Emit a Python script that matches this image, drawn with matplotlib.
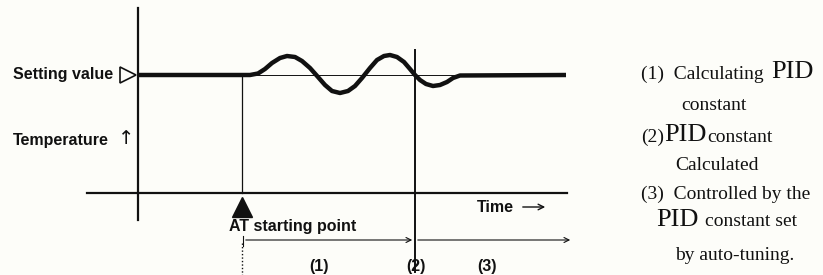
import matplotlib
matplotlib.use("Agg")
import matplotlib.pyplot as plt

# --- data (diagram coordinates: x = time position, y = temperature position, y grows downward) ---
curve_time = [138, 250, 258, 265, 272, 280, 287, 295, 302, 310, 318, 325, 332, 340, 348, 355,
              362, 370, 377, 384, 390, 397, 404, 410, 415, 420, 426, 433, 440, 447, 453, 460, 566]
curve_temp = [75, 75, 73.5, 69, 63, 58, 56, 57, 61, 68, 77, 85, 91, 93, 91, 86,
              78, 68, 60, 56, 55, 57, 62, 69, 75, 80, 84, 86, 85, 82, 78, 75.5, 75]
setpoint = 75
at_start = 242
pid_done = 415
time_end = 567
baseline = 193
vaxis_x = 138

phase_labels = ["(1)", "(2)", "(3)"]
phase_x = [319, 416, 487]

BG = "#fdfdf9"
INK = "#111111"

fig = plt.figure(figsize=(8.23, 2.75), dpi=100, facecolor=BG)
ax = fig.add_axes([0, 0, 1, 1], facecolor=BG)
ax.set_xlim(0, 823)
ax.set_ylim(275, 0)
ax.axis("off")

# axes of the diagram
ax.plot([vaxis_x, vaxis_x], [8, 220], color=INK, lw=1.6)
ax.plot([87, time_end], [baseline, baseline], color=INK, lw=1.6)

# thin setpoint reference
ax.plot([250, 462], [setpoint, setpoint], color=INK, lw=0.7)

# temperature curve
ax.plot(curve_time, curve_temp, color=INK, lw=3.2, solid_capstyle="butt")

# AT start line and PID calculated line
ax.plot([at_start, at_start], [setpoint, baseline], color=INK, lw=0.9)
ax.plot([at_start, at_start], [243, 275], color=INK, lw=1.0, ls=(0, (1, 1.5)))
ax.plot([pid_done, pid_done], [50, 272], color=INK, lw=1.4)

# AT marker
ax.plot([at_start], [207], marker="^", ms=15, color=INK, mec=INK)

# phase arrows
ax.plot([at_start + 1, at_start + 1], [236, 246], color=INK, lw=0.8)
ax.annotate("", xy=(pid_done, 240), xytext=(at_start + 1, 240),
            arrowprops=dict(arrowstyle="->", color=INK, lw=0.8, mutation_scale=9))
ax.annotate("", xy=(573, 240), xytext=(pid_done, 240),
            arrowprops=dict(arrowstyle="->", color=INK, lw=0.8, mutation_scale=9))

# setting value marker
ax.plot([128], [setpoint], marker=">", ms=11, mfc="none", mec=INK, mew=1.2)

sans = dict(family="Liberation Sans", color=INK, fontweight="bold")
ax.text(113, setpoint, "Setting value", ha="right", va="center", fontsize=11.5, **sans)
ax.text(109, 140, "Temperature", ha="right", va="center", fontsize=11.5, **sans)
ax.text(126, 139, "\u2191", ha="center", va="center", fontsize=14, family="DejaVu Sans", color=INK)
ax.text(229, 227, "AT starting point", ha="left", va="center", fontsize=11.5, **sans)
ax.text(477, 207, "Time", ha="left", va="center", fontsize=11.5, **sans)
ax.annotate("", xy=(548, 207), xytext=(520, 207),
            arrowprops=dict(arrowstyle="->", color=INK, lw=1.0, mutation_scale=10))
for lab, px in zip(phase_labels, phase_x):
    ax.text(px, 266, lab, ha="center", va="center", fontsize=11.5, **sans)

# right-hand notes
serif = dict(family="Liberation Serif", color=INK)
ax.text(641, 74, "(1)  Calculating", ha="left", va="center", fontsize=14, **serif)
ax.text(771, 72, "PID", ha="left", va="center", fontsize=19, **serif)
ax.text(714, 106, "constant", ha="center", va="center", fontsize=14, **serif)
ax.text(641, 137, "(2)", ha="left", va="center", fontsize=14, **serif)
ax.text(664, 135, "PID", ha="left", va="center", fontsize=19, **serif)
ax.text(707, 137, "constant", ha="left", va="center", fontsize=14, **serif)
ax.text(717, 165, "Calculated", ha="center", va="center", fontsize=14, **serif)
ax.text(641, 194, "(3)  Controlled by the", ha="left", va="center", fontsize=14, **serif)
ax.text(656, 220, "PID", ha="left", va="center", fontsize=19, **serif)
ax.text(705, 222, "constant set", ha="left", va="center", fontsize=14, **serif)
ax.text(735, 255, "by auto-tuning.", ha="center", va="center", fontsize=14, **serif)

fig.savefig("out.png", dpi=100, facecolor=BG)
